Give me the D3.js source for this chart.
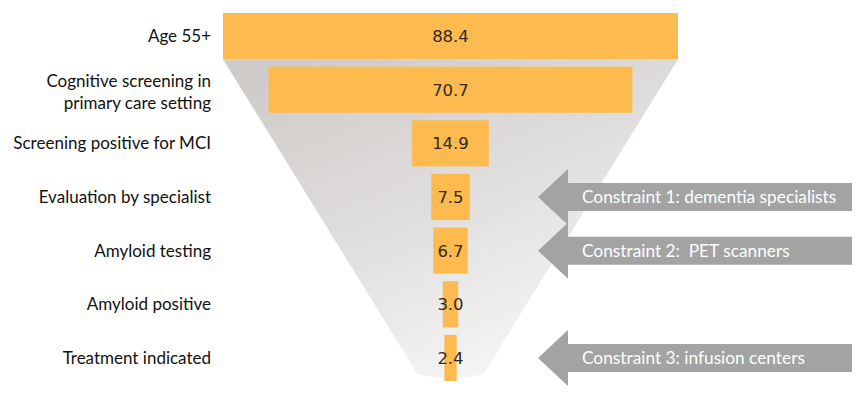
<!DOCTYPE html>
<html>
<head>
<meta charset="utf-8">
<script src="https://cdn.jsdelivr.net/npm/d3@7"></script>
<style>
  body { margin: 0; background: #fff; }
  svg { display: block; }
</style>
</head>
<body>
<svg id="funnel"></svg>
<script>
// Data
const stages = ["Age 55+", "Cognitive screening in primary care setting", "Screening positive for MCI",
                "Evaluation by specialist", "Amyloid testing", "Amyloid positive", "Treatment indicated"];
const stageLines = [["Age 55+"], ["Cognitive screening in", "primary care setting"], ["Screening positive for MCI"],
                    ["Evaluation by specialist"], ["Amyloid testing"], ["Amyloid positive"], ["Treatment indicated"]];
const values = [88.4, 70.7, 14.9, 7.5, 6.7, 3.0, 2.4];
const constraintStages = ["Evaluation by specialist", "Amyloid testing", "Treatment indicated"];
const constraintLabels = ["Constraint 1: dementia specialists", "Constraint 2:  PET scanners", "Constraint 3: infusion centers"];

const svgWidth = 865, svgHeight = 397;
const cx = 450.5; // funnel centre line

const svg = d3.select("#funnel")
    .attr("width", svgWidth)
    .attr("height", svgHeight);

// Scales
const yScale = d3.scaleBand()
    .domain(stages)
    .range([13, 381])
    .paddingInner(0.14)
    .paddingOuter(0);

const wScale = d3.scaleLinear()
    .domain([0, 88.4])
    .range([0, 455]);

// Gradient for the funnel cone behind bars
const defs = svg.append("defs");
const grad = defs.append("linearGradient")
    .attr("id", "coneGrad")
    .attr("x1", 0.2).attr("y1", 0)
    .attr("x2", 0.8).attr("y2", 1);
grad.append("stop").attr("offset", "0%").attr("stop-color", "#cfcbc9");
grad.append("stop").attr("offset", "45%").attr("stop-color", "#e0dedd");
grad.append("stop").attr("offset", "100%").attr("stop-color", "#fafafa");

// Cone: from bottom of first bar down to a narrow base
const topY = yScale(stages[0]) + yScale.bandwidth();
const topHalf = wScale(values[0]) / 2;
const baseY = 378;
const baseHalf = 33;
svg.append("path")
    .attr("d", `M${cx - topHalf},${topY} L${cx + topHalf},${topY} L${cx + baseHalf},${baseY - 4}
                Q${cx},${baseY + 4} ${cx - baseHalf},${baseY - 4} Z`)
    .attr("fill", "url(#coneGrad)");

// Bars
svg.selectAll("rect.bar")
    .data(stages)
    .join("rect")
    .attr("class", "bar")
    .attr("x", (d, i) => cx - wScale(values[i]) / 2)
    .attr("y", d => yScale(d))
    .attr("width", (d, i) => wScale(values[i]))
    .attr("height", yScale.bandwidth())
    .attr("fill", "#fdbb4f");

// Value labels
svg.selectAll("text.val")
    .data(stages)
    .join("text")
    .attr("class", "val")
    .attr("x", cx)
    .attr("y", d => yScale(d) + yScale.bandwidth() / 2)
    .attr("dy", "0.36em")
    .attr("text-anchor", "middle")
    .style("font-family", "'DejaVu Sans', sans-serif")
    .style("font-size", "16.5px")
    .style("fill", "#33291f")
    .text((d, i) => values[i].toFixed(1));

// Stage labels on the left
const labels = svg.selectAll("text.stage")
    .data(stages)
    .join("text")
    .attr("class", "stage")
    .attr("text-anchor", "end")
    .style("font-family", "Lato, sans-serif")
    .style("font-size", "17px")
    .style("fill", "#111");

labels.each(function(d, i) {
    const lines = stageLines[i];
    const mid = yScale(d) + yScale.bandwidth() / 2 + (lines.length > 1 ? 2 : 0);
    const lh = 22;
    d3.select(this).selectAll("tspan")
        .data(lines)
        .join("tspan")
        .attr("x", 211)
        .attr("y", (l, j) => mid + (j - (lines.length - 1) / 2) * lh)
        .attr("dy", "0.35em")
        .text(l => l);
});

// Constraint arrows
const tipX = 538, headX = 568, endX = 852;
const headHalf = 28, bodyHalf = 14;
const arrows = svg.selectAll("g.constraint")
    .data(constraintStages)
    .join("g")
    .attr("class", "constraint")
    .attr("transform", d => `translate(0, ${yScale(d) + yScale.bandwidth() / 2})`);

arrows.append("path")
    .attr("d", `M${tipX},0 L${headX},${-headHalf} L${headX},${-bodyHalf} L${endX},${-bodyHalf}
                L${endX},${bodyHalf} L${headX},${bodyHalf} L${headX},${headHalf} Z`)
    .attr("fill", "#a3a3a3");

arrows.append("text")
    .attr("x", 582)
    .attr("dy", "0.35em")
    .style("font-family", "Lato, sans-serif")
    .style("font-size", "17.3px")
    .style("white-space", "pre")
    .style("fill", "#fff")
    .text((d, i) => constraintLabels[i]);
</script>
</body>
</html>
